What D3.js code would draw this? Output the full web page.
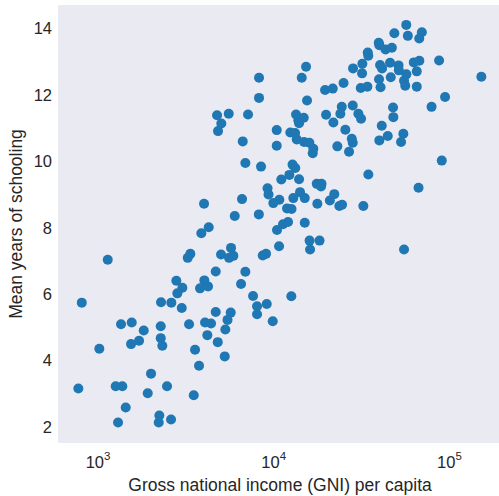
<!DOCTYPE html>
<html>
<head>
<meta charset="utf-8">
<script src="https://cdn.jsdelivr.net/npm/d3@7"></script>
<style>
  body { margin: 0; background: #fff; }
  text { font-family: "Liberation Sans", Arial, sans-serif; fill: #262626; }
</style>
</head>
<body>
<div id="chart"></div>
<script>
// GNI per capita (x) and mean years of schooling (y)
var gni = [3858,4102,3724,3224,3116,4820,1092,4496,2683,3873,2903,3661,4064,2719,777,2195,2513,2880,4496,1300,
  1495,1750,2187,3170,3908,4228,1482,1646,2187,2233,4028,4617,978,3428,3613,1926,743,1212,1322,1844,
  2375,3371,1382,1250,2147,2130,2503,5472,5248,5099,5060,5495,5353,5664,8325,8694,6629,6265,7333,12110,
  7727,8774,7727,9491,10310,15380,17530,15480,53050,10040,10860,11600,14440,5768,7911,11450,12140,6347,10350,9566,
  12430,14440,13570,8865,8982,17030,21260,20060,22720,23540,31120,64150,16900,17990,17870,10620,13400,11800,33220,12300,
  12750,6629,8141,16030,16160,25800,22130,86960,6406,10000,14310,15340,13000,11950,12720,10000,4575,5332,6866,4838,
  4634,12880,14250,13270,13400,19090,23020,21010,24580,26730,27080,39610,42840,52560,51000,38380,45930,46110,76070,90800,
  27080,23450,29150,30200,7931,14880,7931,13880,14690,24010,18840,20840,30080,32790,38230,38990,44570,54670,53050,53890,
  62660,62660,60260,64830,49360,49560,44160,38740,39770,30720,30600,27190,83950,146100,32970,33190,38080,38380,41620,45230,
  46720,54600,55760,66990,64740];
var schooling = [8.72,8.01,7.83,7.21,7.09,7.19,7.03,6.68,6.40,6.41,6.19,6.17,6.23,6.02,5.74,5.75,5.74,5.58,5.46,5.09,
  5.14,4.90,5.03,5.09,5.14,5.11,4.49,4.59,4.67,4.44,4.76,4.55,4.35,4.32,3.84,3.60,3.15,3.22,3.22,3.01,
  3.22,2.95,2.58,2.13,2.34,2.13,2.22,5.44,5.22,4.93,4.12,7.39,7.09,7.15,7.16,7.21,6.67,6.30,5.94,5.93,
  5.63,5.70,5.39,5.18,7.44,7.61,7.61,7.34,7.34,7.93,8.10,8.17,8.15,8.35,8.40,8.58,8.56,8.86,8.84,8.74,
  8.89,8.89,9.07,9.19,9.00,8.72,9.01,8.82,8.65,8.69,8.65,9.20,9.32,9.32,9.24,9.45,9.46,9.59,9.60,9.90,
  9.80,9.95,9.84,10.24,10.38,10.29,10.45,10.02,10.60,10.47,10.58,10.56,10.66,10.87,10.85,10.94,11.39,11.43,11.41,11.14,
  10.91,11.41,11.31,11.24,11.15,11.40,11.43,11.17,10.95,10.68,10.56,11.07,10.76,10.83,10.58,10.63,11.62,11.33,11.64,11.94,
  11.68,11.64,11.43,11.28,11.91,11.83,12.52,12.52,12.85,12.36,12.15,12.19,12.21,12.25,12.47,12.23,12.53,12.62,12.43,12.28,
  12.25,12.71,12.98,13.03,12.89,12.74,12.97,12.90,12.80,12.94,12.65,12.80,13.04,12.55,13.28,13.18,13.57,13.50,13.37,13.42,
  13.86,14.11,13.78,13.89,13.70];

var xTicks = [1e3, 1e4, 1e5];
var xTickExp = ["3", "4", "5"];
var yTicks = [2, 4, 6, 8, 10, 12, 14];

var w = 499, h = 496;
var plotL = 58, plotR = 501, plotT = 5, plotB = 443;

var svg = d3.select("#chart").append("svg")
  .attr("width", w)
  .attr("height", h);

var x = d3.scaleLog().domain([569, 189000]).range([plotL, plotR]);
var y = d3.scaleLinear().domain([1.51, 14.71]).range([plotB, plotT]);

svg.append("rect")
  .attr("x", plotL).attr("y", plotT)
  .attr("width", plotR - plotL).attr("height", plotB - plotT)
  .attr("fill", "#eaeaf2");

var points = gni.map(function(d, i) { return {g: d, s: schooling[i]}; });

svg.append("g")
  .selectAll("circle")
  .data(points)
  .enter()
  .append("circle")
  .attr("cx", function(d) { return x(d.g); })
  .attr("cy", function(d) { return y(d.s); })
  .attr("r", 5)
  .attr("fill", "#1f77b4");

// y tick labels
svg.append("g")
  .selectAll("text")
  .data(yTicks)
  .enter()
  .append("text")
  .attr("x", plotL - 6)
  .attr("y", function(d) { return y(d); })
  .attr("dy", "0.36em")
  .attr("text-anchor", "end")
  .attr("font-size", "16.5px")
  .text(function(d) { return d; });

// x tick labels as 10^n
var xt = svg.append("g")
  .selectAll("text")
  .data(xTicks)
  .enter()
  .append("text")
  .attr("x", function(d) { return x(d) - 3; })
  .attr("y", 468)
  .attr("text-anchor", "middle")
  .attr("font-size", "16.5px");
xt.append("tspan").text("10");
xt.append("tspan")
  .attr("font-size", "11.5px")
  .attr("dy", "-8")
  .text(function(d, i) { return xTickExp[i]; });

svg.append("text")
  .attr("x", 280)
  .attr("y", 491)
  .attr("text-anchor", "middle")
  .attr("font-size", "17.5px")
  .text("Gross national income (GNI) per capita");

svg.append("text")
  .attr("transform", "translate(22," + ((plotT + plotB) / 2) + ") rotate(-90)")
  .attr("text-anchor", "middle")
  .attr("font-size", "17.5px")
  .text("Mean years of schooling");
</script>
</body>
</html>
